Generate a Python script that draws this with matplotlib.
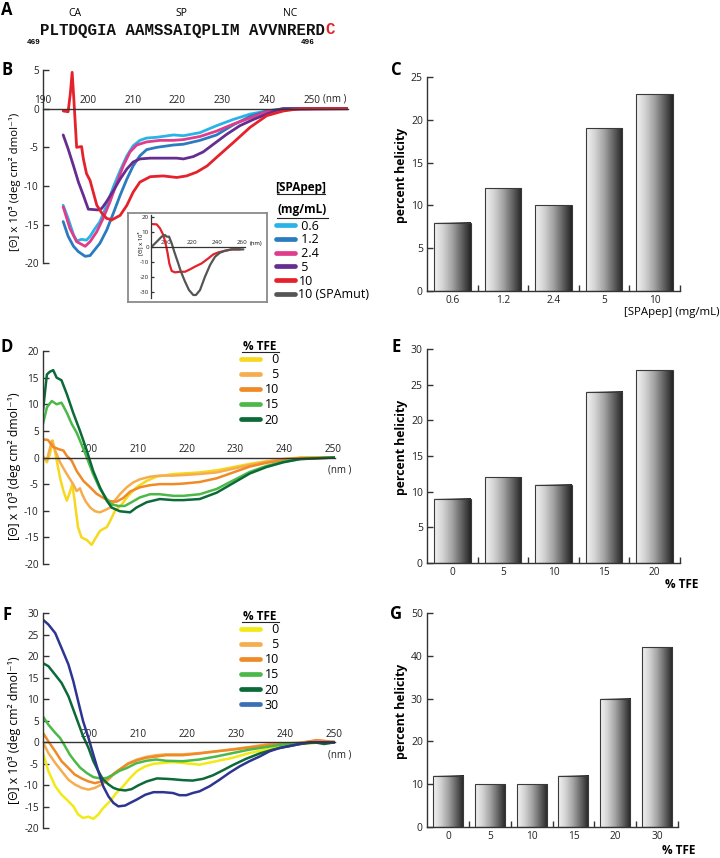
import numpy as np
import matplotlib
matplotlib.use('Agg')
import matplotlib.pyplot as plt
from matplotlib.lines import Line2D
from matplotlib.text import Annotation
from matplotlib.colors import LinearSegmentedColormap
from matplotlib.ticker import MultipleLocator

plt.rcParams['font.family'] = ['Open Sans', 'DejaVu Sans']
plt.rcParams['axes.unicode_minus'] = False

# ---------------- data ----------------
SEQ = "PLTDQGIA AAMSSAIQPLIM AVVNRERD"
SEQ_LAST = "C"
REGIONS = ["CA", "SP", "NC"]

# Panel B: CD spectra (nm, [theta] x 10^3)
B_06 = [(194.5,-12.5),(195.6,-14.2),(196.8,-16.3),(197.5,-17.1),(198.6,-16.9),(199.7,-17.0),(200.5,-16.5),
        (201.6,-15.5),(202.7,-14.6),(204.2,-12.5),(205.7,-10.1),(207.2,-8.0),(208.7,-6.1),(210.1,-4.8),
        (211.6,-4.1),(213.1,-3.8),(215.4,-3.7),(219.1,-3.4),(221.3,-3.5),(225.0,-3.1),(228.7,-2.2),
        (232.4,-1.4),(236.2,-0.7),(239.9,-0.3),(243.6,-0.1),(251.0,0.0),(258.0,0.0)]
B_12 = [(194.5,-14.6),(195.6,-16.5),(196.8,-17.8),(197.9,-18.5),(199.4,-19.1),(200.5,-19.0),(201.6,-18.2),
        (202.7,-17.4),(204.2,-15.7),(205.7,-13.5),(207.2,-11.2),(208.7,-9.1),(210.1,-7.4),(211.6,-6.1),
        (213.1,-5.3),(215.4,-5.0),(219.1,-4.7),(221.3,-4.6),(225.0,-4.1),(228.7,-3.4),(232.4,-2.1),
        (236.2,-1.0),(239.9,-0.3),(243.6,0.0),(258.0,0.0)]
B_24 = [(194.5,-12.7),(196.0,-15.5),(197.5,-17.2),(199.4,-17.8),(200.5,-17.2),(202.0,-15.9),(203.4,-14.2),
        (204.9,-12.1),(206.4,-9.7),(207.9,-7.4),(209.4,-5.6),(210.9,-4.7),(213.1,-4.3),(216.1,-4.1),
        (219.1,-4.1),(221.3,-4.0),(225.0,-3.6),(228.7,-2.9),(232.4,-2.0),(236.2,-1.2),(239.9,-0.4),
        (243.6,-0.1),(258.0,0.0)]
B_5 = [(194.5,-3.4),(195.6,-5.2),(196.8,-7.4),(197.9,-9.5),(199.0,-11.2),(200.1,-13.0),(202.3,-13.1),
       (203.1,-12.9),(204.2,-12.0),(205.7,-10.6),(207.2,-9.1),(208.7,-7.8),(210.1,-6.9),(211.6,-6.5),
       (213.9,-6.4),(216.8,-6.4),(219.8,-6.4),(221.3,-6.5),(223.5,-6.2),(225.7,-5.6),(228.0,-4.6),
       (231.0,-3.3),(233.9,-2.2),(236.9,-1.4),(239.9,-0.7),(242.1,-0.2),(243.6,0.0),(258.0,0.0)]
B_10 = [(194.5,-0.3),(195.6,-0.4),(196.1,2.0),(196.5,4.7),(196.9,1.0),(197.5,-5.0),(198.6,-4.9),(199.0,-6.5),
        (199.7,-8.4),(200.5,-9.3),(201.2,-10.8),(202.0,-12.5),(203.1,-13.5),(204.2,-14.2),(204.9,-14.3),
        (205.3,-14.4),(207.2,-13.8),(208.7,-12.5),(210.1,-10.8),(211.6,-9.5),(213.9,-8.8),(216.8,-8.7),
        (219.8,-8.9),(222.0,-8.7),(224.3,-8.2),(226.6,-7.4),(228.7,-6.3),(232.4,-4.4),(236.2,-2.4),
        (239.9,-0.9),(243.6,-0.3),(247.3,0.0),(258.0,0.0)]
B_LABELS = [" 0.6", " 1.2", " 2.4", " 5", "10", "10 (SPAmut)"]

# Inset of panel B
INS_10 = [(188.0,15.1),(192.5,14.9),(195.1,12.2),(197.7,7.8),(199.5,2.2),(201.1,-4.4),(202.4,-11.1),
          (204.3,-16.2),(206.9,-17.1),(210.8,-16.7),(214.8,-16.7),(218.7,-15.1),(222.6,-13.3),
          (227.9,-11.1),(233.1,-7.8),(237.1,-5.1),(241.0,-3.8),(246.3,-2.7),(251.5,-1.8),(258.1,-1.8)]
INS_MUT = [(188.5,0.0),(192.5,3.3),(196.4,6.7),(199.0,7.8),(200.3,6.7),(202.2,6.7),(204.3,2.2),(206.3,-3.3),
           (209.0,-10.0),(211.6,-16.7),(214.8,-23.3),(217.9,-28.9),(221.3,-32.2),(223.4,-32.2),
           (226.6,-28.9),(230.5,-20.0),(234.5,-12.2),(238.4,-6.7),(242.3,-4.0),(246.3,-2.7),
           (251.5,-1.8),(260.7,-1.8)]

# Panel D
D_0 = [(190.5,0.3),(191.3,-0.9),(191.9,0.6),(192.5,3.2),(193.2,0.0),(194.0,-3.8),(194.7,-6.3),(195.4,-8.1),
       (196.0,-6.6),(196.5,-5.0),(197.0,-8.1),(197.7,-13.1),(198.4,-15.0),(199.5,-15.5),(200.5,-16.4),
       (201.2,-15.3),(202.2,-13.8),(202.9,-13.4),(203.6,-13.1),(204.3,-11.9),(205.3,-10.0),(206.7,-8.8),
       (208.0,-7.2),(209.7,-5.6),(211.8,-4.4),(213.8,-3.6),(217.3,-3.1),(219.3,-3.0),(222.7,-2.8),
       (226.2,-2.4),(229.6,-1.8),(233.0,-1.2),(236.4,-0.7),(239.9,-0.3),(243.3,0.0),(250.5,0.0)]
D_5 = [(190.5,0.0),(191.3,-0.5),(192.3,3.1),(193.0,1.3),(194.0,-0.9),(195.0,-2.5),(196.0,-4.0),(196.7,-5.0),
       (197.4,-6.3),(198.1,-5.8),(198.6,-7.0),(199.3,-8.3),(200.2,-9.4),(201.2,-10.1),(202.2,-10.3),
       (203.2,-9.9),(204.3,-9.4),(204.9,-8.5),(206.3,-6.9),(207.7,-5.6),(209.0,-4.7),(210.4,-4.1),
       (212.5,-3.6),(214.5,-3.4),(217.3,-3.4),(219.3,-3.3),(222.7,-3.1),(226.2,-2.8),(229.6,-2.1),
       (233.0,-1.4),(236.4,-0.8),(239.9,-0.3),(243.3,-0.1),(250.5,0.0)]
D_10 = [(190.5,3.4),(191.5,3.3),(192.6,2.0),(193.6,1.6),(194.7,1.3),(195.4,0.3),(196.4,-0.6),(197.4,-2.5),
        (198.8,-4.4),(200.2,-5.6),(201.5,-6.8),(202.9,-7.6),(204.3,-8.2),(205.6,-8.3),(207.0,-7.6),
        (208.4,-6.4),(210.4,-5.6),(212.5,-5.2),(214.5,-5.0),(217.3,-5.0),(219.3,-4.9),(222.7,-4.6),
        (226.2,-3.9),(229.6,-2.8),(233.0,-1.7),(236.4,-1.0),(239.9,-0.5),(243.3,-0.1),(250.5,0.0)]
D_15 = [(190.5,6.3),(191.3,9.4),(192.3,10.6),(193.3,10.0),(194.3,10.3),(195.4,8.4),(196.4,6.3),(197.4,4.7),
        (198.4,2.5),(199.5,0.0),(200.8,-3.1),(202.2,-5.9),(203.6,-7.8),(204.6,-8.8),(206.0,-9.1),
        (207.3,-9.1),(208.7,-8.4),(210.4,-7.5),(212.5,-6.9),(214.5,-6.9),(217.3,-7.2),(219.3,-7.2),
        (222.7,-6.9),(226.2,-5.9),(229.6,-4.3),(233.0,-2.7),(236.4,-1.6),(239.9,-0.8),(243.3,-0.3),(250.5,0.0)]
D_20 = [(190.5,8.8),(191.3,15.6),(191.9,16.1),(192.6,16.4),(193.3,15.0),(194.3,14.5),(195.4,11.9),
        (196.7,8.4),(198.1,5.0),(199.5,1.3),(200.8,-2.5),(202.2,-5.6),(203.6,-8.1),(204.6,-9.4),
        (206.3,-10.1),(208.4,-10.3),(209.7,-9.4),(211.8,-8.4),(214.5,-7.8),(217.3,-8.0),(219.3,-8.0),
        (222.7,-7.8),(226.2,-6.6),(229.6,-4.8),(233.0,-3.0),(236.4,-1.8),(239.9,-0.9),(243.3,-0.3),(250.5,0.0)]

# Panel F
F_0 = [(190.5,-2.5),(191.6,-6.7),(193.0,-10.2),(194.3,-12.2),(195.7,-13.7),(196.7,-14.9),(197.7,-16.8),
       (198.7,-17.6),(199.8,-17.3),(200.8,-17.8),(201.8,-16.8),(202.8,-15.3),(204.2,-13.7),(205.5,-11.8),
       (206.9,-10.2),(208.3,-8.3),(209.7,-6.7),(211.4,-5.6),(213.1,-5.0),(215.1,-4.8),(217.1,-4.6),
       (219.1,-4.8),(222.5,-5.2),(225.9,-4.4),(229.3,-3.6),(232.7,-2.5),(236.2,-1.7),(239.6,-0.9),
       (243.0,-0.4),(246.4,-0.1),(250.1,0.0)]
F_5 = [(190.5,0.0),(191.6,-2.5),(193.0,-4.8),(194.3,-6.7),(195.7,-8.7),(197.0,-9.8),(198.4,-10.6),
       (199.8,-11.0),(201.1,-10.6),(202.5,-9.8),(203.9,-8.7),(205.2,-7.1),(206.6,-6.0),(207.9,-4.9),
       (209.7,-4.0),(211.6,-3.4),(213.6,-3.0),(215.7,-2.8),(219.1,-2.8),(222.5,-2.5),(225.9,-2.1),
       (229.3,-1.6),(232.7,-1.1),(236.2,-0.5),(239.6,-0.3),(243.0,-0.1),(246.4,0.4),(250.1,0.1)]
F_10 = [(190.5,2.2),(191.6,0.2),(193.0,-2.1),(194.3,-4.4),(195.7,-6.0),(197.0,-7.5),(198.4,-8.4),
        (199.8,-9.1),(201.1,-9.5),(202.5,-9.1),(203.9,-8.3),(205.2,-7.1),(206.6,-6.0),(207.9,-5.0),
        (209.7,-4.2),(211.6,-3.6),(213.6,-3.3),(215.7,-3.0),(219.1,-3.0),(222.5,-2.6),(225.9,-2.1),
        (229.3,-1.7),(232.7,-1.2),(236.2,-0.7),(239.6,-0.4),(243.0,-0.2),(246.4,0.5),(250.1,0.1)]
F_15 = [(190.5,6.0),(191.6,4.1),(193.0,2.2),(194.0,1.0),(195.0,-0.9),(196.0,-2.9),(197.0,-4.4),(198.1,-5.9),
        (199.4,-7.1),(200.8,-8.1),(202.2,-8.4),(203.5,-8.3),(204.9,-7.5),(206.2,-6.6),(207.6,-6.0),
        (209.5,-4.9),(211.6,-4.3),(213.6,-4.0),(215.7,-4.3),(219.1,-4.4),(222.5,-4.0),(225.9,-3.3),
        (229.3,-2.5),(232.7,-1.7),(236.2,-1.1),(239.6,-0.5),(243.0,-0.2),(250.1,0.0)]
F_20 = [(190.5,18.4),(191.6,17.7),(193.0,15.7),(194.3,13.8),(195.7,10.7),(196.7,7.6),(197.7,4.5),
        (198.7,1.4),(199.8,-1.3),(200.8,-4.4),(201.8,-6.7),(202.8,-8.7),(203.9,-9.8),(204.9,-10.6),
        (205.9,-11.0),(207.3,-11.2),(208.6,-10.9),(210.0,-10.0),(211.7,-9.1),(213.8,-8.4),(215.8,-8.5),
        (217.1,-8.6),(219.1,-8.8),(221.1,-8.9),(223.2,-8.5),(225.2,-7.7),(227.3,-6.5),(229.3,-5.3),
        (232.1,-3.8),(234.8,-2.6),(237.5,-1.7),(240.2,-1.0),(243.0,-0.4),(246.0,0.0),(248.0,-0.4),(250.1,0.0)]
F_30 = [(190.5,28.5),(191.6,27.4),(193.0,25.4),(194.3,21.9),(195.7,18.1),(196.7,14.2),(197.7,9.5),
        (198.7,4.9),(199.8,1.0),(200.8,-2.9),(201.8,-6.7),(202.8,-10.2),(203.9,-12.6),(204.9,-14.1),
        (205.9,-14.9),(207.3,-14.7),(208.3,-14.1),(209.7,-13.3),(211.4,-12.2),(213.1,-11.6),(215.1,-11.6),
        (217.1,-11.8),(218.4,-12.3),(219.8,-12.3),(221.1,-11.8),(222.5,-11.4),(224.6,-10.2),(226.6,-8.7),
        (228.6,-7.1),(230.7,-5.6),(232.7,-4.4),(234.8,-3.3),(236.8,-2.1),(238.9,-1.3),(240.9,-0.9),
        (243.0,-0.4),(245.0,0.0),(250.1,0.0)]
TFE_LABELS_D = ["\u20070", "\u20075", "10", "15", "20"]
TFE_LABELS_F = ["\u20070", "\u20075", "10", "15", "20", "30"]

# Bar panels: percent helicity
C_CATS = ["0.6", "1.2", "2.4", "5", "10"]
C_VALS = [8, 12, 10, 19, 23]
E_CATS = ["0", "5", "10", "15", "20"]
E_VALS = [9, 12, 11, 24, 27]
G_CATS = ["0", "5", "10", "15", "20", "30"]
G_VALS = [12, 10, 10, 12, 30, 42]

# ---------------- styles ----------------
COL_B = ['#29b4e8', '#2a7bbf', '#e03c8c', '#662d91', '#e5222b', '#555555']
COL_D = ['#f6d81e', '#f5ad4e', '#ef8a26', '#4cb848', '#0b6a38']
COL_F = ['#f2ea14', '#f5ad4e', '#ef8a26', '#4cb848', '#0b6a38', '#2e3591']
COL_F_LEG = COL_F[:5] + ['#3b6fb6']
DARK = '#333333'
YLAB = "[\u0398] x 10\u00b3 (deg cm\u00b2 dmol\u207b\u00b9)"
MONO = ['Liberation Mono', 'DejaVu Sans Mono']

W, H = 720, 858
fig = plt.figure(figsize=(W / 100, H / 100), dpi=100)


def fx(x):
    return x / W


def fy(y):
    return 1 - y / H


def add_ax(l, t, r, b):
    return fig.add_axes([l / W, 1 - b / H, (r - l) / W, (b - t) / H])


def style_cd(ax, xlim, ylim, ystep, xticks, fs=7.2, ylen=4, lw=1.0):
    ax.set_xlim(*xlim)
    ax.set_ylim(*ylim)
    for s in ('right', 'bottom'):
        ax.spines[s].set_visible(False)
    ax.spines['top'].set_position(('data', 0))
    for s in ('top', 'left'):
        ax.spines[s].set_color(DARK)
        ax.spines[s].set_linewidth(lw)
    ax.xaxis.set_ticks_position('top')
    ax.set_xticks(xticks)
    ax.yaxis.set_major_locator(MultipleLocator(ystep))
    ax.tick_params(axis='x', length=0, pad=2, labelsize=fs, colors='#222222')
    ax.tick_params(axis='y', direction='in', length=ylen, width=lw, color=DARK,
                   labelsize=fs, pad=3, labelcolor='#222222')
    ax.patch.set_alpha(0)


def plot_series(ax, series, colors, lw=1.9):
    for s, c in zip(series, colors):
        arr = np.array(s)
        ax.plot(arr[:, 0], arr[:, 1], color=c, lw=lw, solid_joinstyle='round',
                solid_capstyle='round')


cmap = LinearSegmentedColormap.from_list('bargrad', ['#f3f3f3', '#d2d2d2', '#a2a2a2', '#636363', '#222222'])
grad = np.linspace(0, 1, 256).reshape(1, -1)


def bar_panel(ax, cats, vals, ymax, ystep):
    x = np.arange(len(cats))
    bars = ax.bar(x, vals, width=0.72, facecolor='none', edgecolor='#3a3a3a', linewidth=0.8, zorder=3)
    for p in bars:
        x0, w, h = p.get_x(), p.get_width(), p.get_height()
        ax.imshow(grad, extent=(x0, x0 + w, 0, h), aspect='auto', cmap=cmap,
                  interpolation='bilinear', zorder=2)
    ax.set_xlim(-0.5, len(cats) - 0.5)
    ax.set_ylim(0, ymax)
    for s in ('top', 'right'):
        ax.spines[s].set_visible(False)
    for s in ('left', 'bottom'):
        ax.spines[s].set_color(DARK)
        ax.spines[s].set_linewidth(1.0)
    ax.set_xticks(x)
    ax.set_xticklabels(cats)
    ax.set_xticks(x + 0.5, minor=True)
    ax.yaxis.set_major_locator(MultipleLocator(ystep))
    ax.tick_params(axis='x', which='major', length=0, pad=3, labelsize=7.3, labelcolor='#222222')
    ax.tick_params(axis='x', which='minor', direction='in', length=4, width=1, color=DARK)
    ax.tick_params(axis='y', direction='in', length=4, width=1, color=DARK, labelsize=7.5,
                   pad=3, labelcolor='#222222')


def underline(x0, x1, y):
    fig.add_artist(Line2D([fx(x0), fx(x1)], [fy(y), fy(y)], color='#222222', lw=0.8))


# ---------------- panel A ----------------
fig.text(fx(7), fy(10), 'A', weight='bold', size=12, ha='center', va='center')
for lab, xp in zip(REGIONS, [75, 181, 290]):
    fig.text(fx(xp), fy(13), lab, size=7.5, ha='center', va='center')
seq_t = fig.text(fx(40), fy(30), SEQ, family=MONO, weight='bold',
                 size=11.3, ha='left', va='center', color='#111111')
fig.add_artist(Annotation(SEQ_LAST, xy=(1, 0.5), xycoords=seq_t, va='center', ha='left',
                          family=MONO, weight='bold', size=11.3, color='#e5222b'))
fig.text(fx(34), fy(42), '469', family=MONO, weight='bold', size=5.5, ha='center', va='center')
fig.text(fx(308), fy(42), '496', family=MONO, weight='bold', size=5.5, ha='center', va='center')

# ---------------- panel B ----------------
axB = add_ax(43, 70, 348, 263.3)
style_cd(axB, (190, 258), (-20, 5), 5, [190, 200, 210, 220, 230, 240, 250])
plot_series(axB, [B_06, B_12, B_24, B_5, B_10], COL_B[:5], lw=2.0)
fig.text(fx(335), fy(99), '(nm )', size=7, ha='center', va='center', color='#222222')
fig.text(fx(7), fy(70), 'B', weight='bold', size=12, ha='center', va='center')
fig.text(fx(15), fy(182), YLAB, rotation=90, size=8.2, ha='center', va='center')

# inset
box = add_ax(127.7, 212.7, 266.7, 301.7)
box.set_xticks([])
box.set_yticks([])
for s in box.spines.values():
    s.set_color('#8a8a8a')
    s.set_linewidth(1.3)
box.set_zorder(5)
axI = add_ax(151, 215.2, 245, 297.7)
axI.set_zorder(6)
style_cd(axI, (188, 262), (-34, 21), 10, [200, 220, 240, 260], fs=4.5, ylen=2, lw=0.9)
axI.tick_params(axis='x', pad=1)
axI.tick_params(axis='y', pad=1.5)
plot_series(axI, [INS_10, INS_MUT], [COL_B[4], COL_B[5]], lw=1.6)
fig.text(fx(250), fy(243), '(nm)', size=4.2, ha='left', va='center', zorder=10)
fig.text(fx(140), fy(243), '[\u0398] x 10\u00b3', rotation=90, size=4.2, ha='center', va='center',
         zorder=10)

# B legend
fig.text(fx(301), fy(187), '[SPApep]', weight='bold', size=8.5, ha='center', va='center')
underline(277, 325, 193.5)
fig.text(fx(302), fy(210), '(mg/mL)', weight='bold', size=8.5, ha='center', va='center')
underline(277, 328, 217.5)
hB = [Line2D([], [], color=c, lw=3.4, solid_capstyle='round') for c in COL_B]
fig.legend(hB, B_LABELS, loc='upper left', bbox_to_anchor=(fx(276), fy(219.5)), frameon=False,
           fontsize=9, handlelength=1.5, handletextpad=0.3, labelspacing=0.06, borderpad=0,
           borderaxespad=0)

# ---------------- panel C ----------------
axC = add_ax(427, 77, 680, 291)
bar_panel(axC, C_CATS, C_VALS, 25, 5)
fig.text(fx(720), fy(312), '[SPApep] (mg/mL)', size=8.2, ha='right', va='center')
fig.text(fx(401), fy(175), 'percent helicity', rotation=90, weight='bold', size=8.8,
         ha='center', va='center')
fig.text(fx(396), fy(70), 'C', weight='bold', size=12, ha='center', va='center')

# ---------------- panel D ----------------
axD = add_ax(43, 351, 335, 564)
style_cd(axD, (190.5, 250.5), (-20, 20), 5, [200, 210, 220, 230, 240, 250])
plot_series(axD, [D_0, D_5, D_10, D_15, D_20], COL_D, lw=1.8)
fig.text(fx(340), fy(470), '(nm )', size=7, ha='center', va='center', color='#222222')
fig.text(fx(7), fy(347), 'D', weight='bold', size=12, ha='center', va='center')
fig.text(fx(15), fy(466), YLAB, rotation=90, size=8.8, ha='center', va='center')
fig.text(fx(260), fy(346.5), '% TFE', weight='bold', size=8.5, ha='center', va='center')
underline(242, 279, 352)
hD = [Line2D([], [], color=c, lw=3.4, solid_capstyle='round') for c in COL_D]
fig.legend(hD, TFE_LABELS_D, loc='upper left', bbox_to_anchor=(fx(241), fy(353)), frameon=False,
           fontsize=9, handlelength=1.55, handletextpad=0.35, labelspacing=0.17, borderpad=0,
           borderaxespad=0)

# ---------------- panel E ----------------
axE = add_ax(427, 349, 680, 563)
bar_panel(axE, E_CATS, E_VALS, 30, 5)
fig.text(fx(698), fy(585), '% TFE', weight='bold', size=8.5, ha='right', va='center')
fig.text(fx(401), fy(447), 'percent helicity', rotation=90, weight='bold', size=8.8,
         ha='center', va='center')
fig.text(fx(396), fy(347), 'E', weight='bold', size=12, ha='center', va='center')

# ---------------- panel F ----------------
axF = add_ax(43, 613.3, 335, 828.3)
style_cd(axF, (190.5, 250.2), (-20, 30), 5, [200, 210, 220, 230, 240, 250])
plot_series(axF, [F_0, F_5, F_10, F_15, F_20, F_30], COL_F, lw=1.8)
fig.text(fx(340), fy(755), '(nm )', size=7, ha='center', va='center', color='#222222')
fig.text(fx(7), fy(615), 'F', weight='bold', size=12, ha='center', va='center')
fig.text(fx(15), fy(730), YLAB, rotation=90, size=8.8, ha='center', va='center')
fig.text(fx(260), fy(616.5), '% TFE', weight='bold', size=8.5, ha='center', va='center')
underline(242, 279, 622)
hF = [Line2D([], [], color=c, lw=3.4, solid_capstyle='round') for c in COL_F_LEG]
fig.legend(hF, TFE_LABELS_F, loc='upper left', bbox_to_anchor=(fx(241), fy(623)), frameon=False,
           fontsize=9, handlelength=1.55, handletextpad=0.35, labelspacing=0.17, borderpad=0,
           borderaxespad=0)

# ---------------- panel G ----------------
axG = add_ax(427, 613, 678, 827)
bar_panel(axG, G_CATS, G_VALS, 50, 10)
fig.text(fx(695), fy(850), '% TFE', weight='bold', size=8.5, ha='right', va='center')
fig.text(fx(401), fy(711), 'percent helicity', rotation=90, weight='bold', size=8.8,
         ha='center', va='center')
fig.text(fx(396), fy(614), 'G', weight='bold', size=12, ha='center', va='center')

fig.savefig('out.png', dpi=100)
